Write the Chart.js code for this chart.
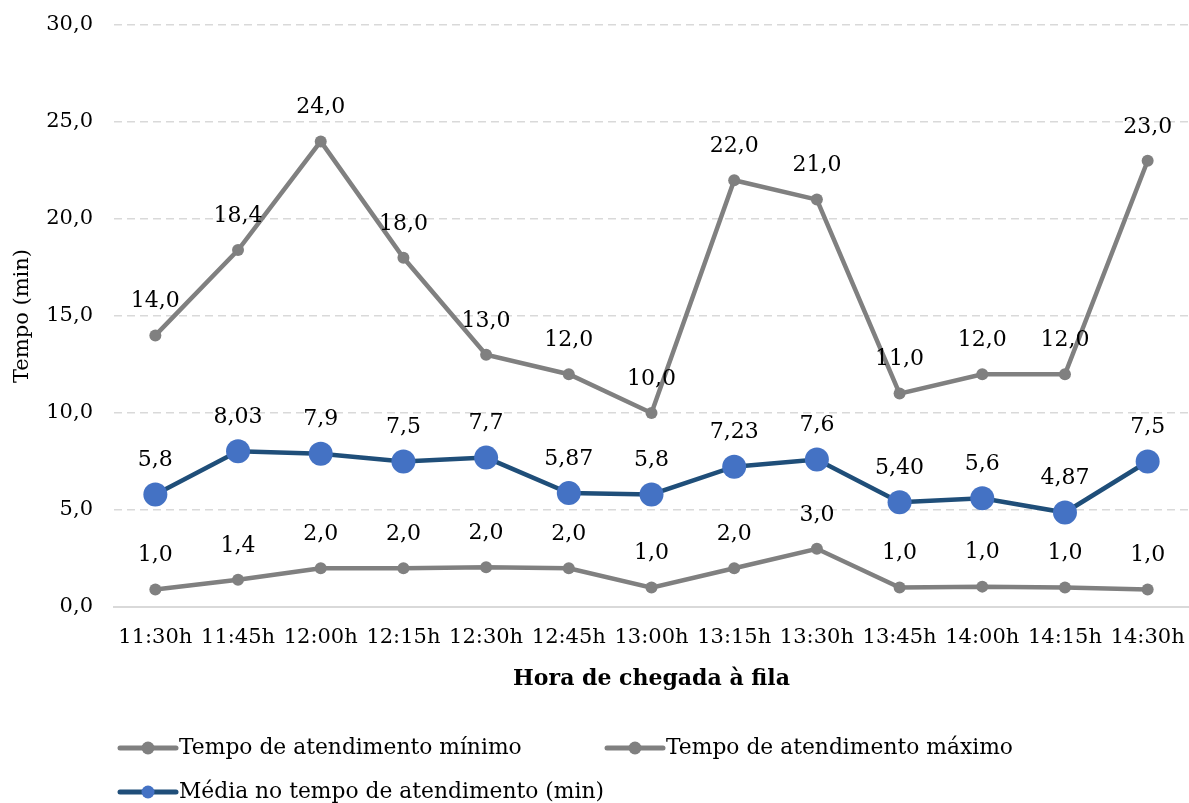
<!DOCTYPE html>
<html>
<head>
<meta charset="utf-8">
<script src="https://cdn.jsdelivr.net/npm/chart.js@4/dist/chart.umd.min.js"></script>
<style>
  html, body { margin: 0; padding: 0; background: #fff; }
  #wrap { width: 1189px; height: 803px; }
</style>
</head>
<body>
<div id="wrap"><canvas id="chartCanvas"></canvas></div>
<script>
// dados
const horas = ['11:30h', '11:45h', '12:00h', '12:15h', '12:30h', '12:45h', '13:00h', '13:15h', '13:30h', '13:45h', '14:00h', '14:15h', '14:30h']
const tempoMin = [0.9, 1.4, 2.0, 2.0, 2.05, 2.0, 1.0, 2.0, 3.0, 1.0, 1.05, 1.0, 0.9]
const tempoMinLabels = ['1,0', '1,4', '2,0', '2,0', '2,0', '2,0', '1,0', '2,0', '3,0', '1,0', '1,0', '1,0', '1,0']
const tempoMax = [14.0, 18.4, 24.0, 18.0, 13.0, 12.0, 10.0, 22.0, 21.0, 11.0, 12.0, 12.0, 23.0]
const tempoMaxLabels = ['14,0', '18,4', '24,0', '18,0', '13,0', '12,0', '10,0', '22,0', '21,0', '11,0', '12,0', '12,0', '23,0']
const media = [5.8, 8.03, 7.9, 7.5, 7.7, 5.87, 5.8, 7.23, 7.6, 5.40, 5.6, 4.87, 7.5]
const mediaLabels = ['5,8', '8,03', '7,9', '7,5', '7,7', '5,87', '5,8', '7,23', '7,6', '5,40', '5,6', '4,87', '7,5']
const yTicks = [0, 5, 10, 15, 20, 25, 30]

const fonte = '"DejaVu Serif", serif'
const tam = 21
const cinza = '#808080'
const azulLinha = '#1F4E79'
const azulPonto = '#4472C4'

// rótulos de dados acima de cada ponto
const rotulos = {
  id: 'rotulos',
  afterDatasetsDraw(chart) {
    const ctx = chart.ctx
    ctx.save()
    ctx.font = '22px ' + fonte
    ctx.fillStyle = '#000'
    ctx.textAlign = 'center'
    ctx.textBaseline = 'middle'
    chart.data.datasets.forEach((ds, i) => {
      chart.getDatasetMeta(i).data.forEach((pt, j) => {
        ctx.fillText(ds.rotulos[j], pt.x, pt.y - 34)
      })
    })
    ctx.restore()
  }
}

// legenda desenhada à mão (alinhada à esquerda, duas linhas)
const legenda = {
  id: 'legenda',
  afterDraw(chart) {
    const ctx = chart.ctx
    const ds = chart.data.datasets
    const itens = [
      { d: ds[0], x: 118, y: chart.height - 55 },
      { d: ds[1], x: 605, y: chart.height - 55 },
      { d: ds[2], x: 118, y: chart.height - 11 }
    ]
    ctx.save()
    ctx.font = '21.8px ' + fonte
    ctx.textBaseline = 'middle'
    itens.forEach(it => {
      ctx.strokeStyle = it.d.borderColor
      ctx.lineWidth = 5
      ctx.lineCap = 'round'
      ctx.beginPath()
      ctx.moveTo(it.x + 2, it.y)
      ctx.lineTo(it.x + 58, it.y)
      ctx.stroke()
      ctx.fillStyle = it.d.pointBackgroundColor
      ctx.beginPath()
      ctx.arc(it.x + 30, it.y, 6.5, 0, Math.PI * 2)
      ctx.fill()
      ctx.fillStyle = '#000'
      ctx.fillText(it.d.label, it.x + 61, it.y)
    })
    ctx.restore()
  }
}

new Chart(document.getElementById('chartCanvas'), {
  type: 'line',
  data: {
    labels: horas,
    datasets: [
      {
        label: 'Tempo de atendimento mínimo',
        data: tempoMin,
        rotulos: tempoMinLabels,
        borderColor: cinza,
        backgroundColor: cinza,
        pointBackgroundColor: cinza,
        pointBorderColor: cinza,
        borderWidth: 4.5,
        pointRadius: 6,
        pointBorderWidth: 0
      },
      {
        label: 'Tempo de atendimento máximo',
        data: tempoMax,
        rotulos: tempoMaxLabels,
        borderColor: cinza,
        backgroundColor: cinza,
        pointBackgroundColor: cinza,
        pointBorderColor: cinza,
        borderWidth: 4.5,
        pointRadius: 6,
        pointBorderWidth: 0
      },
      {
        label: 'Média no tempo de atendimento (min)',
        data: media,
        rotulos: mediaLabels,
        borderColor: azulLinha,
        backgroundColor: azulPonto,
        pointBackgroundColor: azulPonto,
        pointBorderColor: azulPonto,
        borderWidth: 4.5,
        pointRadius: 12,
        pointBorderWidth: 0
      }
    ]
  },
  options: {
    responsive: true,
    maintainAspectRatio: false,
    animation: false,
    layout: { autoPadding: false, padding: { top: 25, bottom: 107, left: 0, right: 0 } },
    plugins: {
      legend: { display: false },
      tooltip: { enabled: false }
    },
    scales: {
      x: {
        offset: true,
        grid: { display: false, offset: true },
        border: { display: true, color: '#d9d9d9', width: 2 },
        ticks: { color: '#000', font: { family: fonte, size: tam }, padding: 10, maxRotation: 0, autoSkip: false },
        title: {
          display: true,
          text: 'Hora de chegada à fila',
          color: '#000',
          font: { family: fonte, size: 22, weight: 'bold' },
          padding: { top: 4, bottom: 4 }
        },
        afterFit: scale => {
          scale.height = 89
          scale.paddingLeft = 0
          scale.paddingRight = 0
        }
      },
      y: {
        min: 0,
        max: 30,
        afterBuildTicks: scale => { scale.ticks = yTicks.map(v => ({ value: v })) },
        grid: { color: '#d9d9d9', lineWidth: 1.5, drawTicks: false },
        border: { display: false, dash: [8, 5] },
        ticks: {
          color: '#000',
          font: { family: fonte, size: tam },
          padding: 21,
          callback: v => v.toFixed(1).replace('.', ',')
        },
        title: {
          display: true,
          text: 'Tempo (min)',
          color: '#000',
          font: { family: fonte, size: tam },
          padding: { top: 10, bottom: 0 }
        },
        afterFit: scale => {
          scale.width = 114
          scale.paddingTop = 0
          scale.paddingBottom = 0
        }
      }
    }
  },
  plugins: [rotulos, legenda]
})
</script>
</body>
</html>
